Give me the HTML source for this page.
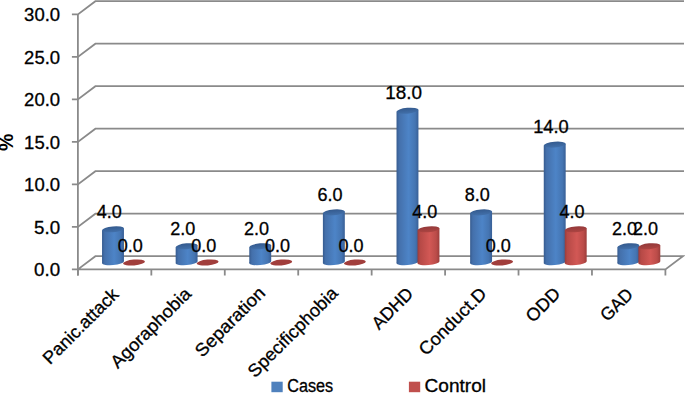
<!DOCTYPE html>
<html><head><meta charset="utf-8"><style>
html,body{margin:0;padding:0;background:#fff;}
body{width:685px;height:393px;overflow:hidden;font-family:"Liberation Sans",sans-serif;}
svg{display:block;}
</style></head><body>
<svg width="685" height="393" viewBox="0 0 685 393">
<defs>
<linearGradient id="gb" x1="0" x2="1" y1="0" y2="0">
<stop offset="0" stop-color="#365b8f"/><stop offset="0.12" stop-color="#4470ab"/>
<stop offset="0.55" stop-color="#4d84c7"/><stop offset="0.85" stop-color="#4575b2"/><stop offset="1" stop-color="#385f96"/>
</linearGradient>
<linearGradient id="gr" x1="0" x2="1" y1="0" y2="0">
<stop offset="0" stop-color="#9a3c3a"/><stop offset="0.12" stop-color="#b64946"/>
<stop offset="0.55" stop-color="#d25855"/><stop offset="0.85" stop-color="#bb4c49"/><stop offset="1" stop-color="#9c3d3b"/>
</linearGradient>
<linearGradient id="tb" x1="0" x2="0" y1="0" y2="1">
<stop offset="0" stop-color="#345a8e"/><stop offset="1" stop-color="#4270aa"/>
</linearGradient>
<linearGradient id="tr" x1="0" x2="0" y1="0" y2="1">
<stop offset="0" stop-color="#93393a"/><stop offset="1" stop-color="#ad4542"/>
</linearGradient>
</defs>
<rect width="685" height="393" fill="#fff"/>
<polyline points="71.9,226.90 77.9,226.90 95.4,213.70 684,213.70" stroke="#8a8a8a" stroke-width="1.8" fill="none"/>
<polyline points="71.9,184.40 77.9,184.40 95.4,171.20 684,171.20" stroke="#8a8a8a" stroke-width="1.8" fill="none"/>
<polyline points="71.9,141.90 77.9,141.90 95.4,128.70 684,128.70" stroke="#8a8a8a" stroke-width="1.8" fill="none"/>
<polyline points="71.9,99.40 77.9,99.40 95.4,86.20 684,86.20" stroke="#8a8a8a" stroke-width="1.8" fill="none"/>
<polyline points="71.9,56.90 77.9,56.90 95.4,43.70 684,43.70" stroke="#8a8a8a" stroke-width="1.8" fill="none"/>
<polyline points="71.9,14.40 77.9,14.40 95.4,1.20 684,1.20" stroke="#8a8a8a" stroke-width="1.8" fill="none"/>
<polyline points="71.9,269.40 665.4,269.40 682.9,256.20 95.4,256.20 77.9,269.40" stroke="#8a8a8a" stroke-width="1.8" fill="none"/>
<line x1="77.9" y1="14.40" x2="77.9" y2="275.50" stroke="#8a8a8a" stroke-width="1.8" fill="none"/>
<line x1="77.90" y1="269.40" x2="77.90" y2="275.50" stroke="#8a8a8a" stroke-width="1.8" fill="none"/>
<line x1="151.34" y1="269.40" x2="151.34" y2="275.50" stroke="#8a8a8a" stroke-width="1.8" fill="none"/>
<line x1="224.78" y1="269.40" x2="224.78" y2="275.50" stroke="#8a8a8a" stroke-width="1.8" fill="none"/>
<line x1="298.21" y1="269.40" x2="298.21" y2="275.50" stroke="#8a8a8a" stroke-width="1.8" fill="none"/>
<line x1="371.65" y1="269.40" x2="371.65" y2="275.50" stroke="#8a8a8a" stroke-width="1.8" fill="none"/>
<line x1="445.09" y1="269.40" x2="445.09" y2="275.50" stroke="#8a8a8a" stroke-width="1.8" fill="none"/>
<line x1="518.52" y1="269.40" x2="518.52" y2="275.50" stroke="#8a8a8a" stroke-width="1.8" fill="none"/>
<line x1="591.96" y1="269.40" x2="591.96" y2="275.50" stroke="#8a8a8a" stroke-width="1.8" fill="none"/>
<line x1="665.40" y1="269.40" x2="665.40" y2="275.50" stroke="#8a8a8a" stroke-width="1.8" fill="none"/>
<text x="60.1" y="276.40" text-anchor="end" font-family="Liberation Sans, sans-serif" font-size="18" fill="#000" stroke="#000" stroke-width="0.3" textLength="26.00" lengthAdjust="spacingAndGlyphs">0.0</text>
<text x="60.1" y="233.90" text-anchor="end" font-family="Liberation Sans, sans-serif" font-size="18" fill="#000" stroke="#000" stroke-width="0.3" textLength="26.00" lengthAdjust="spacingAndGlyphs">5.0</text>
<text x="60.1" y="191.40" text-anchor="end" font-family="Liberation Sans, sans-serif" font-size="18" fill="#000" stroke="#000" stroke-width="0.3" textLength="36.00" lengthAdjust="spacingAndGlyphs">10.0</text>
<text x="60.1" y="148.90" text-anchor="end" font-family="Liberation Sans, sans-serif" font-size="18" fill="#000" stroke="#000" stroke-width="0.3" textLength="36.00" lengthAdjust="spacingAndGlyphs">15.0</text>
<text x="60.1" y="106.40" text-anchor="end" font-family="Liberation Sans, sans-serif" font-size="18" fill="#000" stroke="#000" stroke-width="0.3" textLength="36.00" lengthAdjust="spacingAndGlyphs">20.0</text>
<text x="60.1" y="63.90" text-anchor="end" font-family="Liberation Sans, sans-serif" font-size="18" fill="#000" stroke="#000" stroke-width="0.3" textLength="36.00" lengthAdjust="spacingAndGlyphs">25.0</text>
<text x="60.1" y="21.40" text-anchor="end" font-family="Liberation Sans, sans-serif" font-size="18" fill="#000" stroke="#000" stroke-width="0.3" textLength="36.00" lengthAdjust="spacingAndGlyphs">30.0</text>
<ellipse cx="113.00" cy="262.2" rx="11" ry="2.9" transform="rotate(-5 113.00 262.2)" fill="url(#gb)"/><polygon points="102.04,230.28 123.96,228.36 123.96,261.24 102.04,263.16" fill="url(#gb)"/><ellipse cx="113.00" cy="229.32" rx="11" ry="2.9" transform="rotate(-5 113.00 229.32)" fill="url(#tb)"/>
<ellipse cx="134.00" cy="262.5" rx="11" ry="2.9" transform="rotate(-5 134.00 262.5)" fill="#a13e3c"/>
<ellipse cx="186.62" cy="262.2" rx="11" ry="2.9" transform="rotate(-5 186.62 262.2)" fill="url(#gb)"/><polygon points="175.66,247.22 197.58,245.30 197.58,261.24 175.66,263.16" fill="url(#gb)"/><ellipse cx="186.62" cy="246.26" rx="11" ry="2.9" transform="rotate(-5 186.62 246.26)" fill="url(#tb)"/>
<ellipse cx="207.62" cy="262.5" rx="11" ry="2.9" transform="rotate(-5 207.62 262.5)" fill="#a13e3c"/>
<ellipse cx="260.24" cy="262.2" rx="11" ry="2.9" transform="rotate(-5 260.24 262.2)" fill="url(#gb)"/><polygon points="249.28,247.22 271.20,245.30 271.20,261.24 249.28,263.16" fill="url(#gb)"/><ellipse cx="260.24" cy="246.26" rx="11" ry="2.9" transform="rotate(-5 260.24 246.26)" fill="url(#tb)"/>
<ellipse cx="281.24" cy="262.5" rx="11" ry="2.9" transform="rotate(-5 281.24 262.5)" fill="#a13e3c"/>
<ellipse cx="333.86" cy="262.2" rx="11" ry="2.9" transform="rotate(-5 333.86 262.2)" fill="url(#gb)"/><polygon points="322.90,213.34 344.82,211.42 344.82,261.24 322.90,263.16" fill="url(#gb)"/><ellipse cx="333.86" cy="212.38" rx="11" ry="2.9" transform="rotate(-5 333.86 212.38)" fill="url(#tb)"/>
<ellipse cx="354.86" cy="262.5" rx="11" ry="2.9" transform="rotate(-5 354.86 262.5)" fill="#a13e3c"/>
<ellipse cx="407.48" cy="262.2" rx="11" ry="2.9" transform="rotate(-5 407.48 262.2)" fill="url(#gb)"/><polygon points="396.52,111.70 418.44,109.78 418.44,261.24 396.52,263.16" fill="url(#gb)"/><ellipse cx="407.48" cy="110.74" rx="11" ry="2.9" transform="rotate(-5 407.48 110.74)" fill="url(#tb)"/>
<ellipse cx="428.48" cy="262.2" rx="11" ry="2.9" transform="rotate(-5 428.48 262.2)" fill="url(#gr)"/><polygon points="417.52,230.28 439.44,228.36 439.44,261.24 417.52,263.16" fill="url(#gr)"/><ellipse cx="428.48" cy="229.32" rx="11" ry="2.9" transform="rotate(-5 428.48 229.32)" fill="url(#tr)"/>
<ellipse cx="481.10" cy="262.2" rx="11" ry="2.9" transform="rotate(-5 481.10 262.2)" fill="url(#gb)"/><polygon points="470.14,213.34 492.06,211.42 492.06,261.24 470.14,263.16" fill="url(#gb)"/><ellipse cx="481.10" cy="212.38" rx="11" ry="2.9" transform="rotate(-5 481.10 212.38)" fill="url(#tb)"/>
<ellipse cx="502.10" cy="262.5" rx="11" ry="2.9" transform="rotate(-5 502.10 262.5)" fill="#a13e3c"/>
<ellipse cx="554.72" cy="262.2" rx="11" ry="2.9" transform="rotate(-5 554.72 262.2)" fill="url(#gb)"/><polygon points="543.76,145.58 565.68,143.66 565.68,261.24 543.76,263.16" fill="url(#gb)"/><ellipse cx="554.72" cy="144.62" rx="11" ry="2.9" transform="rotate(-5 554.72 144.62)" fill="url(#tb)"/>
<ellipse cx="575.72" cy="262.2" rx="11" ry="2.9" transform="rotate(-5 575.72 262.2)" fill="url(#gr)"/><polygon points="564.76,230.28 586.68,228.36 586.68,261.24 564.76,263.16" fill="url(#gr)"/><ellipse cx="575.72" cy="229.32" rx="11" ry="2.9" transform="rotate(-5 575.72 229.32)" fill="url(#tr)"/>
<ellipse cx="628.34" cy="262.2" rx="11" ry="2.9" transform="rotate(-5 628.34 262.2)" fill="url(#gb)"/><polygon points="617.38,247.22 639.30,245.30 639.30,261.24 617.38,263.16" fill="url(#gb)"/><ellipse cx="628.34" cy="246.26" rx="11" ry="2.9" transform="rotate(-5 628.34 246.26)" fill="url(#tb)"/>
<ellipse cx="649.34" cy="262.2" rx="11" ry="2.9" transform="rotate(-5 649.34 262.2)" fill="url(#gr)"/><polygon points="638.38,247.22 660.30,245.30 660.30,261.24 638.38,263.16" fill="url(#gr)"/><ellipse cx="649.34" cy="246.26" rx="11" ry="2.9" transform="rotate(-5 649.34 246.26)" fill="url(#tr)"/>
<text x="109.20" y="217.72" text-anchor="middle" font-family="Liberation Sans, sans-serif" font-size="18" fill="#000" stroke="#000" stroke-width="0.3">4.0</text>
<text x="130.20" y="251.60" text-anchor="middle" font-family="Liberation Sans, sans-serif" font-size="18" fill="#000" stroke="#000" stroke-width="0.3">0.0</text>
<text x="182.82" y="234.66" text-anchor="middle" font-family="Liberation Sans, sans-serif" font-size="18" fill="#000" stroke="#000" stroke-width="0.3">2.0</text>
<text x="203.82" y="251.60" text-anchor="middle" font-family="Liberation Sans, sans-serif" font-size="18" fill="#000" stroke="#000" stroke-width="0.3">0.0</text>
<text x="256.44" y="234.66" text-anchor="middle" font-family="Liberation Sans, sans-serif" font-size="18" fill="#000" stroke="#000" stroke-width="0.3">2.0</text>
<text x="277.44" y="251.60" text-anchor="middle" font-family="Liberation Sans, sans-serif" font-size="18" fill="#000" stroke="#000" stroke-width="0.3">0.0</text>
<text x="330.06" y="200.78" text-anchor="middle" font-family="Liberation Sans, sans-serif" font-size="18" fill="#000" stroke="#000" stroke-width="0.3">6.0</text>
<text x="351.06" y="251.60" text-anchor="middle" font-family="Liberation Sans, sans-serif" font-size="18" fill="#000" stroke="#000" stroke-width="0.3">0.0</text>
<text x="403.68" y="99.14" text-anchor="middle" font-family="Liberation Sans, sans-serif" font-size="18" fill="#000" stroke="#000" stroke-width="0.3" textLength="36.80" lengthAdjust="spacingAndGlyphs">18.0</text>
<text x="424.68" y="217.72" text-anchor="middle" font-family="Liberation Sans, sans-serif" font-size="18" fill="#000" stroke="#000" stroke-width="0.3">4.0</text>
<text x="477.30" y="200.78" text-anchor="middle" font-family="Liberation Sans, sans-serif" font-size="18" fill="#000" stroke="#000" stroke-width="0.3">8.0</text>
<text x="498.30" y="251.60" text-anchor="middle" font-family="Liberation Sans, sans-serif" font-size="18" fill="#000" stroke="#000" stroke-width="0.3">0.0</text>
<text x="550.92" y="133.02" text-anchor="middle" font-family="Liberation Sans, sans-serif" font-size="18" fill="#000" stroke="#000" stroke-width="0.3" textLength="35.50" lengthAdjust="spacingAndGlyphs">14.0</text>
<text x="571.92" y="217.72" text-anchor="middle" font-family="Liberation Sans, sans-serif" font-size="18" fill="#000" stroke="#000" stroke-width="0.3">4.0</text>
<text x="624.54" y="234.66" text-anchor="middle" font-family="Liberation Sans, sans-serif" font-size="18" fill="#000" stroke="#000" stroke-width="0.3">2.0</text>
<text x="645.54" y="234.66" text-anchor="middle" font-family="Liberation Sans, sans-serif" font-size="18" fill="#000" stroke="#000" stroke-width="0.3">2.0</text>
<text x="0" y="0" text-anchor="end" transform="translate(119.70,295.68) rotate(-45)" font-family="Liberation Sans, sans-serif" font-size="18" fill="#000" stroke="#000" stroke-width="0.3" textLength="98.50" lengthAdjust="spacingAndGlyphs">Panic.attack</text>
<text x="0" y="0" text-anchor="end" transform="translate(192.18,294.88) rotate(-45)" font-family="Liberation Sans, sans-serif" font-size="18" fill="#000" stroke="#000" stroke-width="0.3" textLength="105.14" lengthAdjust="spacingAndGlyphs">Agoraphobia</text>
<text x="0" y="0" text-anchor="end" transform="translate(266.25,294.08) rotate(-45)" font-family="Liberation Sans, sans-serif" font-size="18" fill="#000" stroke="#000" stroke-width="0.3" textLength="90.35" lengthAdjust="spacingAndGlyphs">Separation</text>
<text x="0" y="0" text-anchor="end" transform="translate(339.05,294.40) rotate(-45)" font-family="Liberation Sans, sans-serif" font-size="18" fill="#000" stroke="#000" stroke-width="0.3" textLength="118.78" lengthAdjust="spacingAndGlyphs">Specificphobia</text>
<text x="0" y="0" text-anchor="end" transform="translate(414.41,294.88) rotate(-45)" font-family="Liberation Sans, sans-serif" font-size="18" fill="#000" stroke="#000" stroke-width="0.3" textLength="50.21" lengthAdjust="spacingAndGlyphs">ADHD</text>
<text x="0" y="0" text-anchor="end" transform="translate(487.69,294.88) rotate(-45)" font-family="Liberation Sans, sans-serif" font-size="18" fill="#000" stroke="#000" stroke-width="0.3" textLength="87.31" lengthAdjust="spacingAndGlyphs">Conduct.D</text>
<text x="0" y="0" text-anchor="end" transform="translate(561.44,294.88) rotate(-45)" font-family="Liberation Sans, sans-serif" font-size="18" fill="#000" stroke="#000" stroke-width="0.3" textLength="40.11" lengthAdjust="spacingAndGlyphs">ODD</text>
<text x="0" y="0" text-anchor="end" transform="translate(634.08,295.68) rotate(-45)" font-family="Liberation Sans, sans-serif" font-size="18" fill="#000" stroke="#000" stroke-width="0.3" textLength="37.76" lengthAdjust="spacingAndGlyphs">GAD</text>
<text x="0" y="0" text-anchor="middle" transform="translate(13.4,142.4) rotate(-90)" font-family="Liberation Sans, sans-serif" font-size="19.5" font-weight="bold">%</text>
<rect x="271.4" y="381.7" width="11.3" height="10.5" fill="#4f81bd"/>
<text x="287.2" y="392" font-family="Liberation Sans, sans-serif" font-size="18" fill="#000" stroke="#000" stroke-width="0.3" textLength="46.00" lengthAdjust="spacingAndGlyphs">Cases</text>
<rect x="408.9" y="381.7" width="11.3" height="10.5" fill="#c0504d"/>
<text x="424.5" y="392" font-family="Liberation Sans, sans-serif" font-size="18" fill="#000" stroke="#000" stroke-width="0.3" textLength="61.50" lengthAdjust="spacingAndGlyphs">Control</text>
</svg>
</body></html>
